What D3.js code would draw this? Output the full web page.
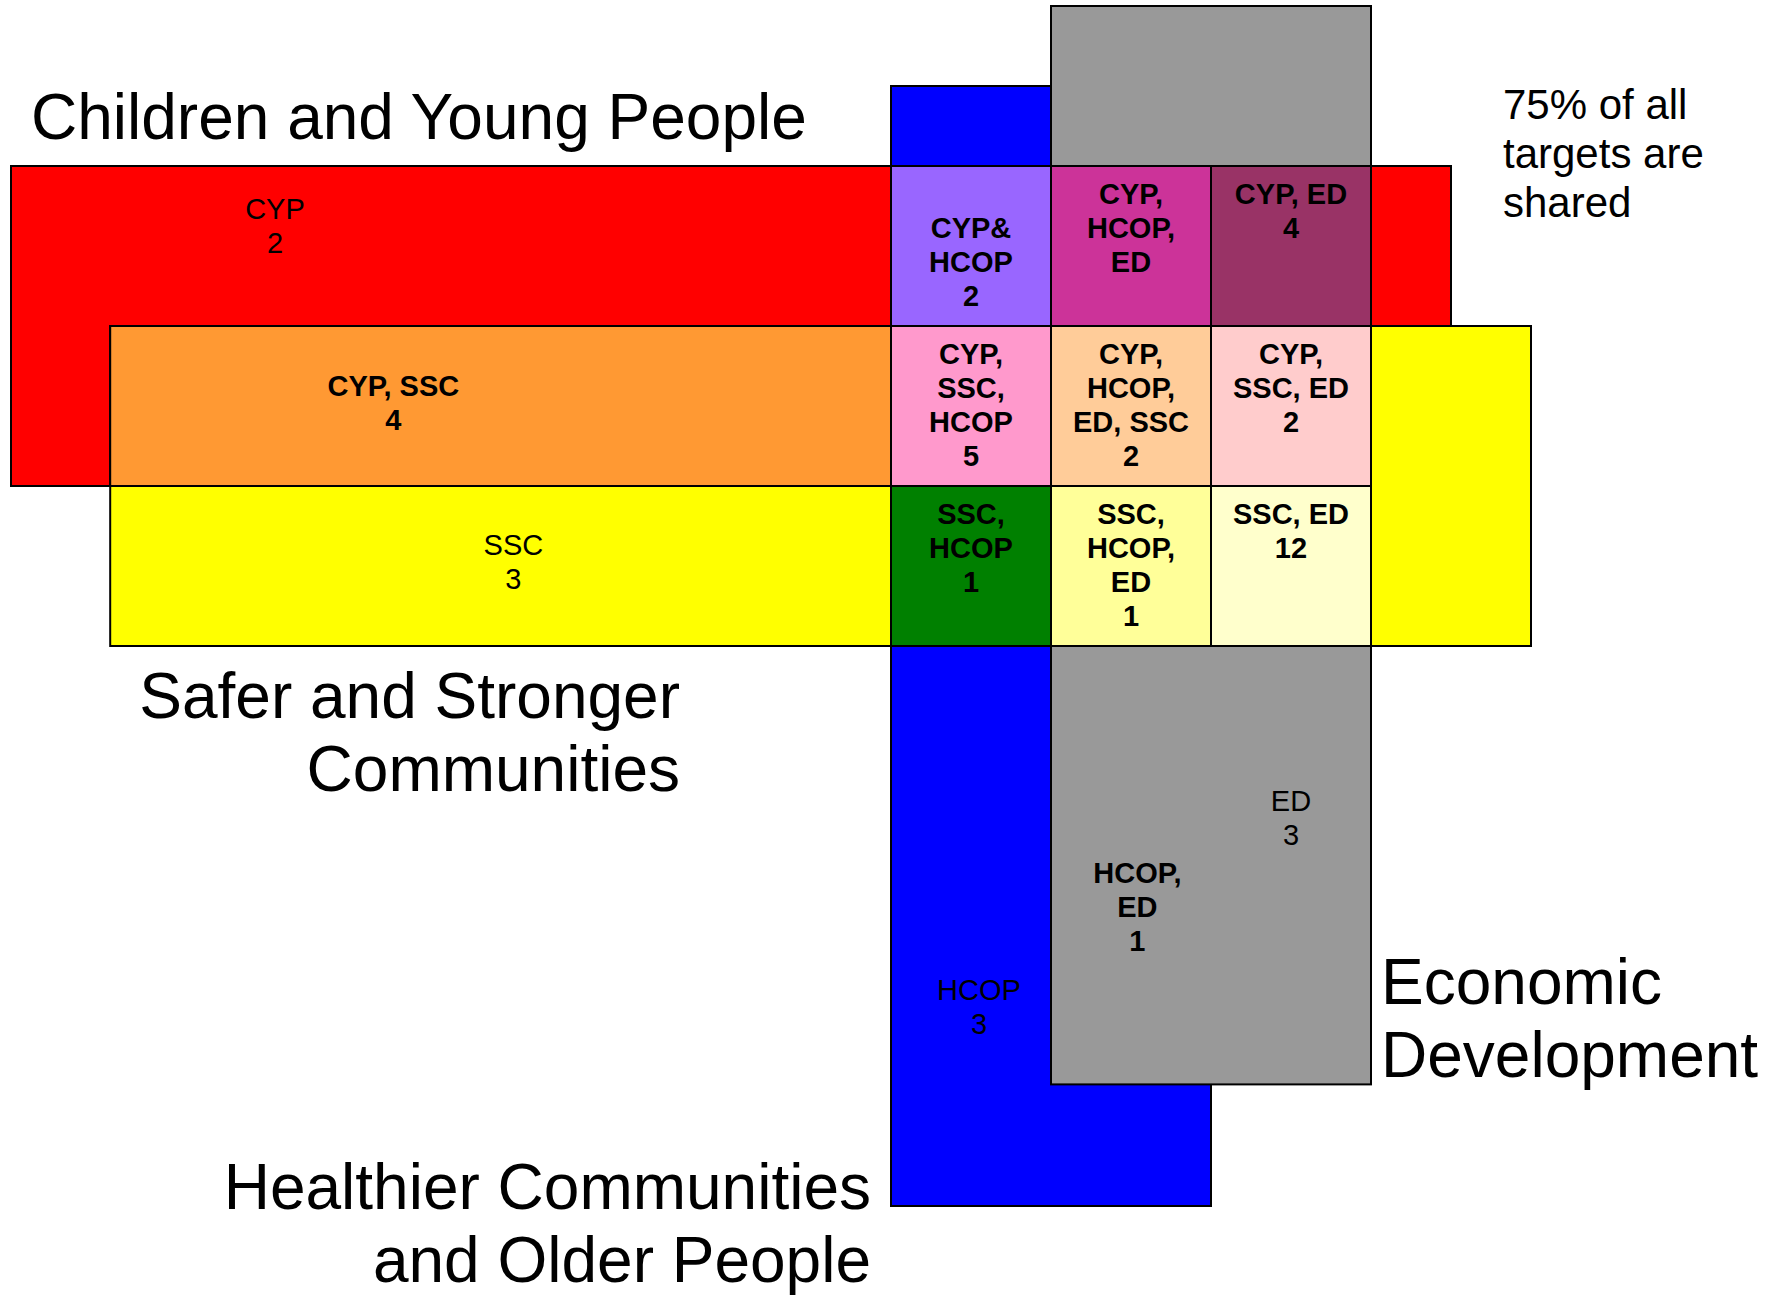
<!DOCTYPE html>
<html>
<head>
<meta charset="utf-8">
<script src="https://cdn.jsdelivr.net/npm/d3@7"></script>
<style>
  body { margin: 0; background: #fff; }
  text { font-family: "Liberation Sans", Arial, sans-serif; fill: #000; }
</style>
</head>
<body>
<div class="chart"></div>
<script>
// DATA ------------------------------------

// the four theme blocks
const areaCodes = ["CYP", "SSC", "HCOP", "ED"];
const areaNames = [
  ["Children and Young People"],
  ["Safer and Stronger", "Communities"],
  ["Healthier Communities", "and Older People"],
  ["Economic", "Development"]
];
// targets that belong to one theme only
const areaCounts = [2, 3, 3, 3];

// overlaps outside the 3x3 grid
const sideLabels = ["CYP, SSC", "HCOP,\nED"];
const sideCounts = [4, 1];

// the 3x3 grid of shared targets, row by row
const cellLabels = [
  "\nCYP&\nHCOP", "CYP,\nHCOP,\nED", "CYP, ED",
  "CYP,\nSSC,\nHCOP", "CYP,\nHCOP,\nED, SSC", "CYP,\nSSC, ED",
  "SSC,\nHCOP", "SSC,\nHCOP,\nED", "SSC, ED"
];
const cellCounts = [2, null, 4, 5, 2, 2, 1, 1, 12];

const noteLines = ["75% of all", "targets are", "shared"];

// STYLES / LAYOUT -------------------------

const areaColors = ["#FF0000", "#FFFF00", "#0000FF", "#999999"];
const overlapColor = "#FF9933";
const cellColors = [
  "#9966FF", "#CC3399", "#993366",
  "#FF99CC", "#FFCC99", "#FFCCCC",
  "#008000", "#FFFF99", "#FFFFCC"
];

// extents in grid units (one unit = one grid cell)
const areaBoxes = [
  {x0: -5.5,  x1: 3.5, y0: 0,    y1: 2},
  {x0: -4.88, x1: 4,   y0: 1,    y1: 3},
  {x0: 0,     x1: 2,   y0: -0.5, y1: 6.5},
  {x0: 1,     x1: 3,   y0: -1,   y1: 5.74}
];
const overlapBox = {x0: -4.88, x1: 0, y0: 1, y1: 2};

// where the single-theme labels sit (first baseline)
const areaLabelPos = [
  {x: -3.85, y: 0.33},
  {x: -2.36, y: 2.43},
  {x: 0.55,  y: 5.21},
  {x: 2.5,   y: 4.03}
];
const sideLabelPos = [
  {x: -3.11, y: 1.44},
  {x: 1.54,  y: 4.48}
];

const width = 1772;
const height = 1296;

const svg = d3.select(".chart").append("svg")
    .attr("width", width)
    .attr("height", height)
    .style("display", "block");

svg.append("rect")
    .attr("width", width)
    .attr("height", height)
    .attr("fill", "#fff");

// grid scales
const x = d3.scaleLinear().domain([0, 3]).range([891, 1371]);
const y = d3.scaleLinear().domain([0, 3]).range([166, 646]);

const lineH = 34;

function drawBox(g, b, fill) {
  g.append("rect")
      .attr("x", x(b.x0))
      .attr("y", y(b.y0))
      .attr("width", x(b.x1) - x(b.x0))
      .attr("height", y(b.y1) - y(b.y0))
      .attr("fill", fill)
      .attr("stroke", "#000")
      .attr("stroke-width", 2);
}

function drawLabel(g, lines, cx, by, bold, size) {
  const t = g.append("text")
      .attr("text-anchor", "middle")
      .attr("font-size", size)
      .attr("font-weight", bold ? "bold" : "normal");
  lines.forEach((l, i) => {
    t.append("tspan")
        .attr("x", cx)
        .attr("y", by + i * lineH)
        .text(l);
  });
}

// MARKS -----------------------------------

const boxes = svg.append("g").attr("class", "boxes");

// CYP then SSC, then their left overlap
drawBox(boxes, areaBoxes[0], areaColors[0]);
drawBox(boxes, areaBoxes[1], areaColors[1]);
drawBox(boxes, overlapBox, overlapColor);
// HCOP then ED
drawBox(boxes, areaBoxes[2], areaColors[2]);
drawBox(boxes, areaBoxes[3], areaColors[3]);

// grid cells
const cells = svg.append("g").attr("class", "cells");
cells.selectAll("rect")
    .data(cellLabels)
    .enter()
    .append("rect")
    .attr("x", (d, i) => x(i % 3))
    .attr("y", (d, i) => y(Math.floor(i / 3)))
    .attr("width", x(1) - x(0))
    .attr("height", y(1) - y(0))
    .attr("fill", (d, i) => cellColors[i])
    .attr("stroke", "#000")
    .attr("stroke-width", 2);

// LABELS ----------------------------------

const labels = svg.append("g").attr("class", "labels");

cellLabels.forEach((d, i) => {
  const lines = d.split("\n");
  if (cellCounts[i] !== null) lines.push(String(cellCounts[i]));
  drawLabel(labels, lines, x(i % 3 + 0.5), y(Math.floor(i / 3) + 0.2375), true, 29);
});

areaCodes.forEach((c, i) => {
  const p = areaLabelPos[i];
  drawLabel(labels, [c, String(areaCounts[i])], x(p.x), y(p.y), false, 29);
});

sideLabels.forEach((d, i) => {
  const p = sideLabelPos[i];
  const lines = d.split("\n");
  lines.push(String(sideCounts[i]));
  drawLabel(labels, lines, x(p.x), y(p.y), true, 29);
});

// theme titles
const titlePos = [
  {x: 31,   y: 139,  anchor: "start"},
  {x: 680,  y: 718,  anchor: "end"},
  {x: 871,  y: 1209, anchor: "end"},
  {x: 1381, y: 1004, anchor: "start"}
];

areaNames.forEach((lines, i) => {
  const p = titlePos[i];
  const t = svg.append("text")
      .attr("font-size", 64)
      .attr("text-anchor", p.anchor);
  lines.forEach((l, j) => {
    t.append("tspan")
        .attr("x", p.x)
        .attr("y", p.y + j * 73)
        .text(l);
  });
});

// note top right
const note = svg.append("text")
    .attr("font-size", 42);
noteLines.forEach((l, j) => {
  note.append("tspan")
      .attr("x", 1503)
      .attr("y", 119 + j * 49)
      .text(l);
});
</script>
</body>
</html>
